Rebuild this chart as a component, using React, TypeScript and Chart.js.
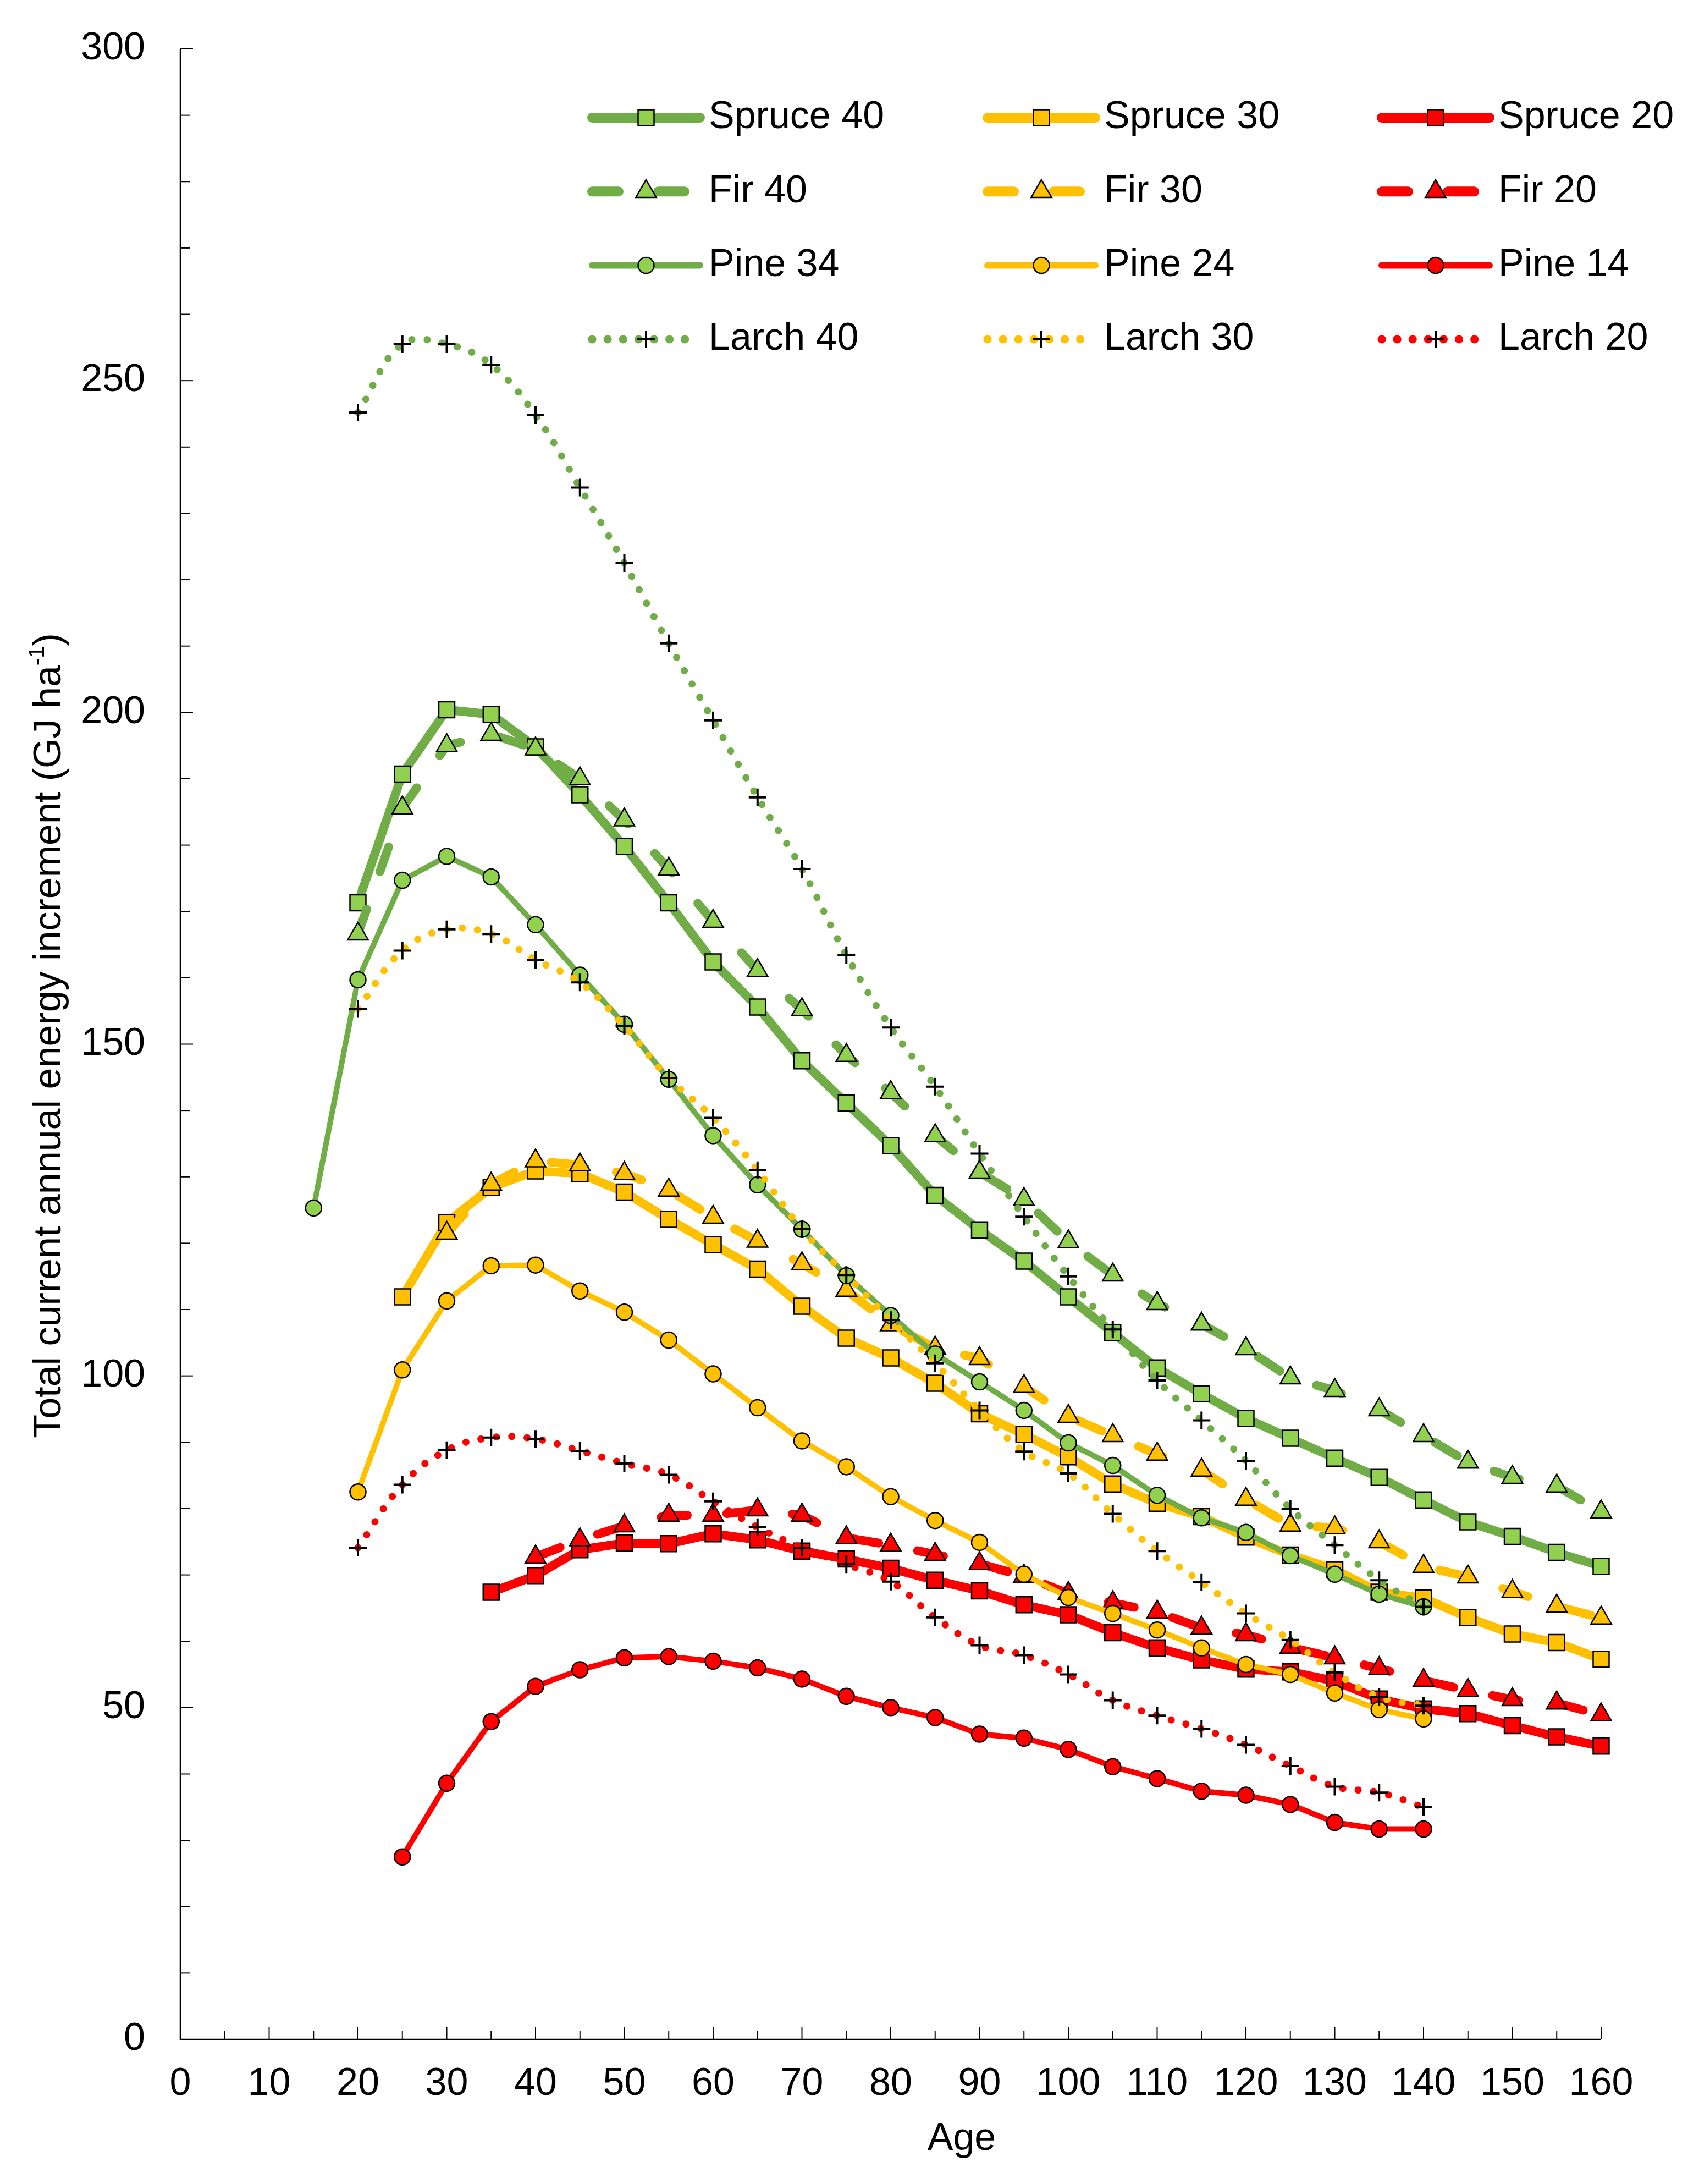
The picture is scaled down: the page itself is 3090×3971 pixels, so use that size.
import React, { useEffect, useRef } from 'react';
import { Chart, registerables } from 'chart.js';
import { drawPoint } from 'chart.js/helpers';

Chart.register(...registerables);

// Stand age (years), shared x positions of every series
const AGES = [15, 20, 25, 30, 35, 40, 45, 50, 55, 60, 65, 70, 75, 80, 85, 90, 95, 100, 105, 110, 115, 120, 125, 130, 135, 140, 145, 150, 155, 160];

// Total current annual energy increment (GJ/ha), aligned with AGES (null = no value)
const SPRUCE_40 = [null, 171.3, 190.7, 200.4, 199.7, 194.8, 187.6, 179.8, 171.3, 162.4, 155.6, 147.5, 141.1, 134.7, 127.2, 122.0, 117.3, 111.9, 106.5, 101.2, 97.3, 93.6, 90.6, 87.6, 84.7, 81.3, 78.0, 75.8, 73.4, 71.3];
const SPRUCE_30 = [null, null, 111.9, 123.1, 128.4, 130.9, 130.5, 127.7, 123.6, 119.8, 116.1, 110.5, 105.7, 102.7, 98.9, 94.3, 91.2, 87.8, 83.7, 80.8, 78.8, 75.7, 73.0, 70.8, 67.4, 66.5, 63.6, 61.1, 59.8, 57.3];
const SPRUCE_20 = [null, null, null, null, 67.4, 69.9, 73.8, 74.8, 74.7, 76.2, 75.3, 73.6, 72.4, 71.0, 69.2, 67.6, 65.5, 64.0, 61.3, 59.0, 57.2, 55.8, 55.4, 54.0, 51.3, 49.8, 49.1, 47.3, 45.6, 44.2];
const FIR_40 = [null, 166.6, 185.6, 195.0, 196.7, 194.5, 190.0, 183.8, 176.4, 168.5, 161.1, 155.2, 148.3, 142.7, 136.2, 130.7, 126.6, 120.2, 115.2, 110.9, 107.8, 104.1, 99.7, 97.8, 94.9, 91.0, 87.0, 84.7, 83.4, 79.5];
const FIR_30 = [null, null, null, 121.5, 128.9, 132.4, 131.8, 130.5, 128.0, 123.9, 120.3, 116.9, 112.9, 107.7, 104.2, 102.6, 98.4, 93.9, 91.0, 88.2, 85.8, 81.4, 77.5, 77.1, 75.0, 71.3, 69.7, 67.5, 65.3, 63.5];
const FIR_20 = [null, null, null, null, null, 72.7, 75.3, 77.4, 79.0, 79.0, 79.8, 79.0, 75.6, 74.5, 73.1, 71.7, 69.8, 67.2, 65.8, 64.4, 62.0, 61.0, 59.1, 57.5, 55.9, 54.1, 52.6, 51.2, 50.7, 48.9];
const PINE_34 = [125.3, 159.7, 174.7, 178.3, 175.2, 168.0, 160.4, 153.0, 144.7, 136.2, 128.8, 122.1, 115.1, 109.1, 103.3, 99.1, 94.8, 89.9, 86.5, 82.0, 78.6, 76.4, 72.9, 70.1, 67.1, 65.2, null, null, null, null];
const PINE_24 = [null, 82.5, 100.9, 111.3, 116.6, 116.7, 112.8, 109.6, 105.4, 100.3, 95.2, 90.2, 86.3, 81.8, 78.2, 74.9, 70.1, 66.6, 64.2, 61.7, 59.0, 56.5, 55.0, 52.2, 49.7, 48.3, null, null, null, null];
const PINE_14 = [null, null, 27.5, 38.6, 47.9, 53.2, 55.7, 57.5, 57.7, 57.0, 56.0, 54.3, 51.7, 50.0, 48.5, 46.0, 45.4, 43.7, 41.1, 39.3, 37.4, 36.8, 35.4, 32.7, 31.7, 31.7, null, null, null, null];
const LARCH_40 = [null, 245.2, 255.5, 255.5, 252.4, 244.8, 233.9, 222.5, 210.4, 198.8, 187.2, 176.4, 163.4, 152.5, 143.6, 133.5, 124.0, 115.0, 107.0, 99.3, 93.3, 87.2, 80.0, 74.5, 69.2, 65.2, null, null, null, null];
const LARCH_30 = [null, 155.3, 164.1, 167.3, 166.6, 162.7, 159.3, 152.7, 144.9, 138.9, 131.0, 122.1, 115.2, 108.4, 101.9, 94.8, 88.6, 85.3, 79.2, 73.6, 68.9, 64.2, 60.2, 55.3, 51.6, 50.3, null, null, null, null];
const LARCH_20 = [null, 74.1, 83.6, 88.8, 90.7, 90.5, 88.7, 86.8, 85.1, 81.1, 77.2, 74.1, 71.6, 69.0, 63.6, 59.4, 57.9, 55.0, 51.1, 48.8, 46.8, 44.4, 41.2, 38.1, 37.2, 35.0, null, null, null, null];

// Axis ticks and titles
const X_TICKS = [0, 10, 20, 30, 40, 50, 60, 70, 80, 90, 100, 110, 120, 130, 140, 150, 160];
const Y_TICKS = [0, 50, 100, 150, 200, 250, 300];
const X_MINOR_STEP = 5;
const Y_MINOR_STEP = 10;
const X_TITLE = 'Age';
const Y_TITLE = 'Total current annual energy increment (GJ ha';
const Y_TITLE_SUP = '-1';
const Y_TITLE_END = ')';

const W = 3090;
const H = 3971;
const FONT = "'Liberation Sans', Arial, Helvetica, sans-serif";

const GREEN = '#70AD47';
const GREEN_FILL = '#92D050';
const YELLOW = '#FFC000';
const RED = '#FF0000';

type Kind = 'spruce' | 'fir' | 'pine' | 'larch';

const STYLE: Record<Kind, { pointStyle: string; radius: number; width: number; dash: number[]; tension: number; pointBorder: number }> = {
  spruce: { pointStyle: 'rect', radius: 20.5, width: 16, dash: [], tension: 0, pointBorder: 2.5 },
  fir: { pointStyle: 'triangle', radius: 21.5, width: 16, dash: [48, 72], tension: 0, pointBorder: 2.5 },
  pine: { pointStyle: 'circle', radius: 14.5, width: 10, dash: [], tension: 0, pointBorder: 2.5 },
  larch: { pointStyle: 'cross', radius: 16, width: 13, dash: [0.1, 28], tension: 0.4, pointBorder: 4 },
};

interface Series {
  label: string;
  kind: Kind;
  values: (number | null)[];
  line: string;
  fill: string;
}

// legend order (row by row, three columns); later series are drawn on top
const SERIES: Series[] = [
  { label: 'Spruce 40', kind: 'spruce', values: SPRUCE_40, line: GREEN, fill: GREEN_FILL },
  { label: 'Spruce 30', kind: 'spruce', values: SPRUCE_30, line: YELLOW, fill: YELLOW },
  { label: 'Spruce 20', kind: 'spruce', values: SPRUCE_20, line: RED, fill: RED },
  { label: 'Fir 40', kind: 'fir', values: FIR_40, line: GREEN, fill: GREEN_FILL },
  { label: 'Fir 30', kind: 'fir', values: FIR_30, line: YELLOW, fill: YELLOW },
  { label: 'Fir 20', kind: 'fir', values: FIR_20, line: RED, fill: RED },
  { label: 'Pine 34', kind: 'pine', values: PINE_34, line: GREEN, fill: GREEN_FILL },
  { label: 'Pine 24', kind: 'pine', values: PINE_24, line: YELLOW, fill: YELLOW },
  { label: 'Pine 14', kind: 'pine', values: PINE_14, line: RED, fill: RED },
  { label: 'Larch 40', kind: 'larch', values: LARCH_40, line: GREEN, fill: GREEN_FILL },
  { label: 'Larch 30', kind: 'larch', values: LARCH_30, line: YELLOW, fill: YELLOW },
  { label: 'Larch 20', kind: 'larch', values: LARCH_20, line: RED, fill: RED },
];

// axis lines and inward tick marks
const axesPlugin = {
  id: 'axesDecor',
  beforeDatasetsDraw(chart: any) {
    const { ctx, chartArea } = chart;
    const xs = chart.scales.x;
    const ys = chart.scales.y;
    ctx.save();
    ctx.strokeStyle = '#000';
    ctx.lineCap = 'butt';
    ctx.lineWidth = 2;
    for (let v = xs.min; v <= xs.max; v += X_MINOR_STEP) {
      const px = xs.getPixelForValue(v);
      const len = X_TICKS.includes(v) ? 22 : 16;
      ctx.beginPath();
      ctx.moveTo(px, chartArea.bottom);
      ctx.lineTo(px, chartArea.bottom - len);
      ctx.stroke();
    }
    for (let v = ys.min; v <= ys.max; v += Y_MINOR_STEP) {
      const py = ys.getPixelForValue(v);
      const len = Y_TICKS.includes(v) ? 23 : 17;
      ctx.beginPath();
      ctx.moveTo(chartArea.left, py);
      ctx.lineTo(chartArea.left + len, py);
      ctx.stroke();
    }
    ctx.lineWidth = 2.5;
    ctx.beginPath();
    ctx.moveTo(chartArea.left, chartArea.top);
    ctx.lineTo(chartArea.left, chartArea.bottom);
    ctx.lineTo(chartArea.right, chartArea.bottom);
    ctx.stroke();
    ctx.restore();
  },
};

// axis titles and the three-column legend inside the plot
const textPlugin = {
  id: 'textDecor',
  afterDraw(chart: any) {
    const { ctx, chartArea } = chart;
    ctx.save();
    ctx.fillStyle = '#000';

    // x title
    ctx.font = `70px ${FONT}`;
    ctx.textAlign = 'center';
    ctx.textBaseline = 'alphabetic';
    ctx.fillText(X_TITLE, chartArea.left + 1421, 3909);

    // y title with superscript
    ctx.translate(110, 1883);
    ctx.rotate(-Math.PI / 2);
    ctx.textAlign = 'left';
    ctx.font = `70px ${FONT}`;
    const wMain = ctx.measureText(Y_TITLE).width;
    const wEnd = ctx.measureText(Y_TITLE_END).width;
    ctx.font = `40px ${FONT}`;
    const wSup = ctx.measureText(Y_TITLE_SUP).width;
    let tx = -(wMain + wSup + wEnd) / 2;
    ctx.font = `70px ${FONT}`;
    ctx.fillText(Y_TITLE, tx, 0);
    tx += wMain;
    ctx.font = `40px ${FONT}`;
    ctx.fillText(Y_TITLE_SUP, tx, -30);
    tx += wSup;
    ctx.font = `70px ${FONT}`;
    ctx.fillText(Y_TITLE_END, tx, 0);
    ctx.restore();

    // legend
    const colX = [1077, 1796, 2513];
    const rowY0 = 214;
    const rowGap = 134.3;
    const lineLen = 196;
    ctx.save();
    SERIES.forEach((s, i) => {
      const st = STYLE[s.kind];
      const x0 = colX[i % 3];
      const y = rowY0 + rowGap * Math.floor(i / 3);
      ctx.strokeStyle = s.line;
      ctx.lineWidth = st.width + 2;
      ctx.lineCap = 'round';
      ctx.setLineDash(st.dash);
      ctx.beginPath();
      ctx.moveTo(x0, y);
      ctx.lineTo(x0 + lineLen, y);
      ctx.stroke();
      ctx.setLineDash([]);
      ctx.lineCap = 'butt';
      ctx.lineWidth = st.pointBorder;
      ctx.strokeStyle = '#000';
      ctx.fillStyle = s.fill;
      drawPoint(ctx, { pointStyle: st.pointStyle as any, radius: st.radius, rotation: 0, borderWidth: st.pointBorder }, x0 + lineLen / 2, y);
      ctx.fillStyle = '#000';
      ctx.font = `70px ${FONT}`;
      ctx.textAlign = 'left';
      ctx.textBaseline = 'middle';
      ctx.fillText(s.label, x0 + lineLen + 16, y);
    });
    ctx.restore();
  },
};

const App: React.FC = () => {
  const canvasRef = useRef<HTMLCanvasElement | null>(null);

  useEffect(() => {
    if (!canvasRef.current) return;

    const datasets = SERIES.map((s, i) => {
      const st = STYLE[s.kind];
      return {
        label: s.label,
        data: AGES.map((a, j) => ({ x: a, y: s.values[j] })).filter((p) => p.y !== null),
        borderColor: s.line,
        backgroundColor: s.fill,
        borderWidth: st.width,
        borderDash: st.dash,
        borderCapStyle: 'round',
        borderJoinStyle: 'round',
        tension: st.tension,
        fill: false,
        pointStyle: st.pointStyle,
        pointRadius: st.radius,
        pointHoverRadius: st.radius,
        pointBackgroundColor: s.fill,
        pointBorderColor: '#000',
        pointBorderWidth: st.pointBorder,
        order: SERIES.length - 1 - i,
        clip: false,
      };
    });

    const chart = new Chart(canvasRef.current, {
      type: 'line',
      data: { datasets } as any,
      options: {
        animation: false,
        responsive: false,
        devicePixelRatio: 1,
        events: [],
        layout: { padding: { top: 89, right: 178, bottom: 0, left: 0 } },
        plugins: {
          legend: { display: false },
          tooltip: { enabled: false },
        },
        scales: {
          x: {
            type: 'linear',
            min: 0,
            max: 160,
            grid: { display: false, drawTicks: false },
            border: { display: false },
            ticks: {
              padding: 40,
              color: '#000',
              autoSkip: false,
              maxRotation: 0,
              font: { size: 70, family: FONT },
            },
            afterBuildTicks: (scale: any) => {
              scale.ticks = X_TICKS.map((v) => ({ value: v }));
            },
            afterFit: (scale: any) => {
              scale.height = H - 3708;
              scale.paddingLeft = 0;
              scale.paddingRight = 0;
            },
          },
          y: {
            type: 'linear',
            min: 0,
            max: 300,
            grid: { display: false, drawTicks: false },
            border: { display: false },
            ticks: {
              padding: 64,
              color: '#000',
              font: { size: 70, family: FONT },
            },
            afterBuildTicks: (scale: any) => {
              scale.ticks = Y_TICKS.map((v) => ({ value: v }));
            },
            afterFit: (scale: any) => {
              scale.width = 328;
              scale.paddingTop = 0;
              scale.paddingBottom = 0;
            },
          },
        },
      },
      plugins: [axesPlugin, textPlugin],
    } as any);

    return () => {
      chart.destroy();
    };
  }, []);

  return (
    <div style={{ position: 'absolute', left: 0, top: 0, width: W, height: H, background: '#fff' }}>
      <canvas ref={canvasRef} width={W} height={H} style={{ width: W, height: H, display: 'block' }} />
    </div>
  );
};

export default App;
